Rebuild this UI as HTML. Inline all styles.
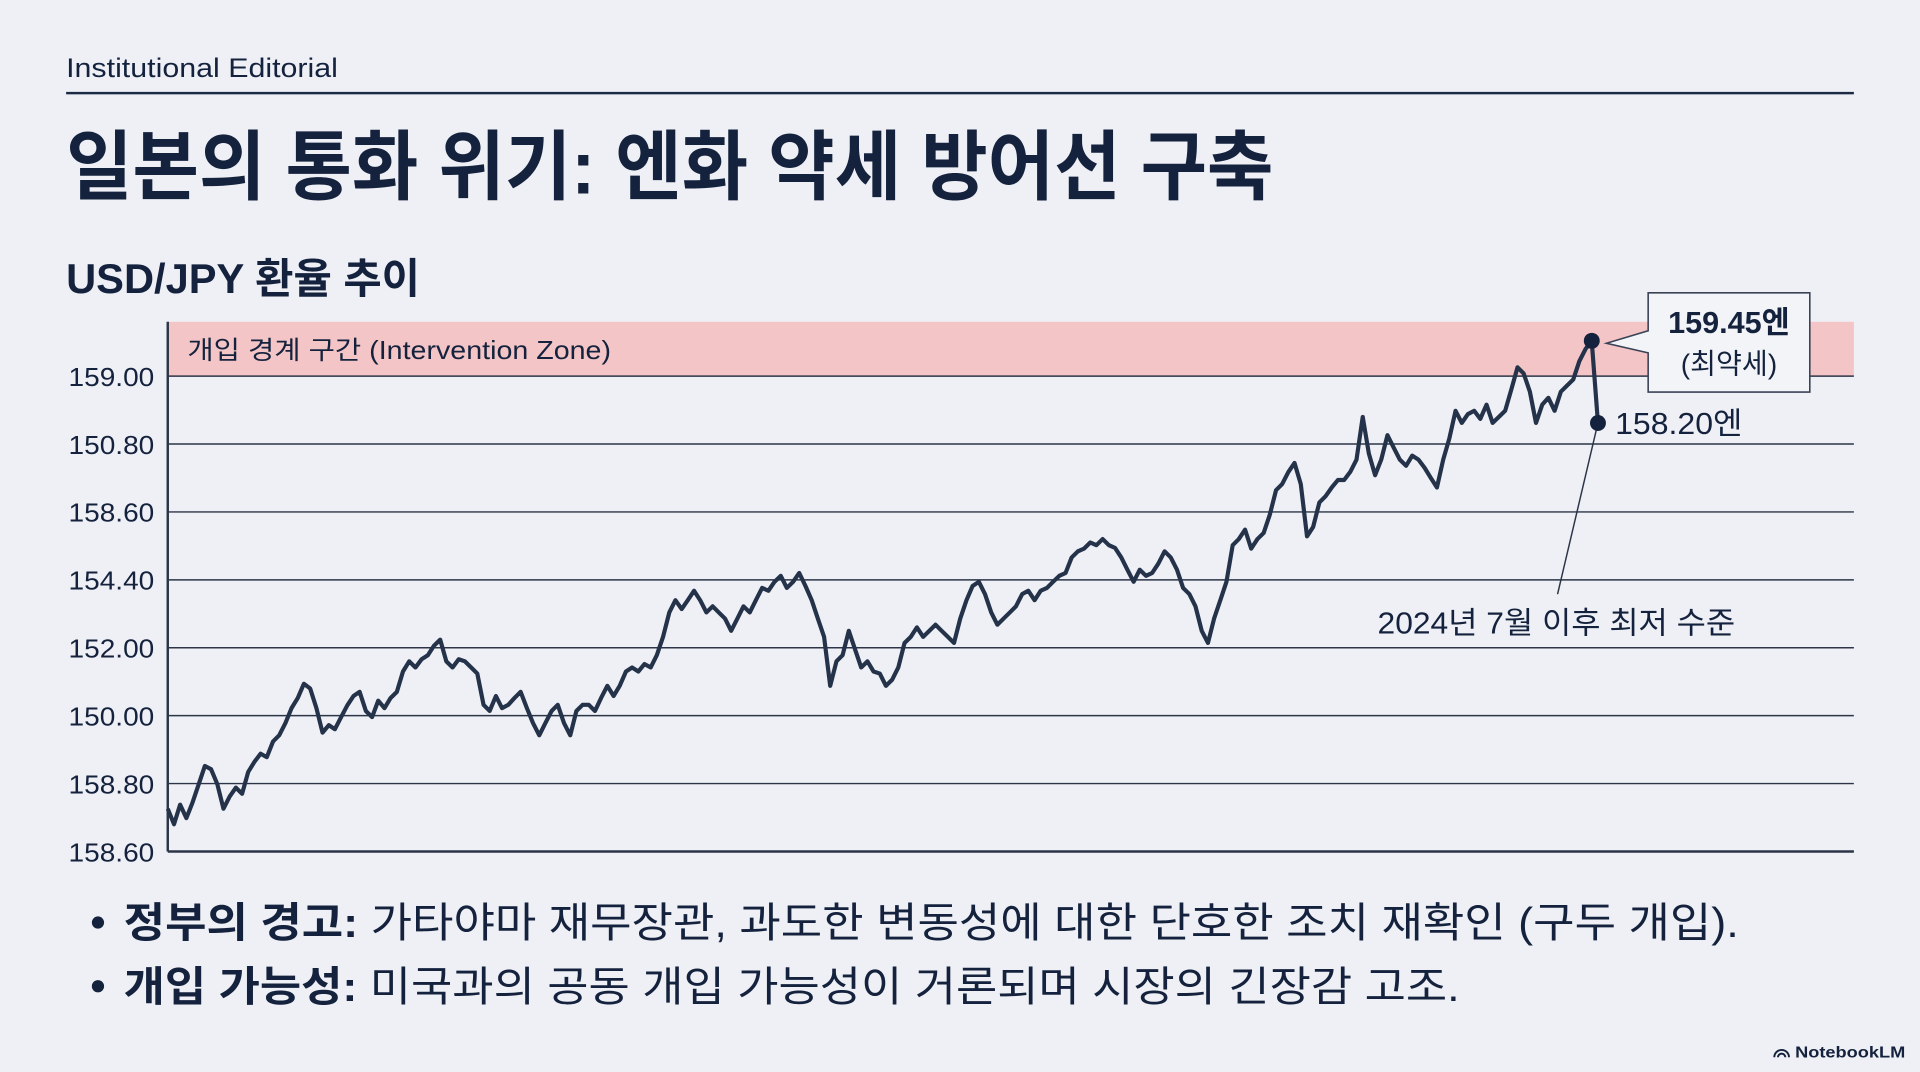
<!DOCTYPE html>
<html><head><meta charset="utf-8"><style>
html,body{margin:0;padding:0;background:#eef0f5;}
svg{display:block;}
text{font-family:"Liberation Sans","Noto Sans CJK KR",sans-serif;fill:#14223d;}
</style></head><body>
<svg id="chart" width="1920" height="1072" viewBox="0 0 1568 875" preserveAspectRatio="none" xmlns="http://www.w3.org/2000/svg">
<rect x="0" y="0" width="1568" height="875" fill="#eef0f5"/>
<text x="54" y="63" font-size="22" textLength="222" lengthAdjust="spacingAndGlyphs">Institutional Editorial</text>
<rect x="54" y="75" width="1460" height="2" fill="#1b2b45"/>
<text x="54" y="158" font-size="62" font-weight="bold" textLength="986" lengthAdjust="spacingAndGlyphs">일본의 통화 위기: 엔화 약세 방어선 구축</text>
<text x="54" y="239" font-size="34" font-weight="bold" textLength="289" lengthAdjust="spacingAndGlyphs">USD/JPY 환율 추이</text>
<g id="plot"></g>
<text x="101" y="765" font-size="34" textLength="1319" lengthAdjust="spacingAndGlyphs"><tspan font-weight="bold">정부의 경고:</tspan> 가타야마 재무장관, 과도한 변동성에 대한 단호한 조치 재확인 (구두 개입).</text>
<circle cx="80" cy="753" r="5" fill="#14223d"/>
<text x="101" y="817" font-size="34" textLength="1091" lengthAdjust="spacingAndGlyphs"><tspan font-weight="bold">개입 가능성:</tspan> 미국과의 공동 개입 가능성이 거론되며 시장의 긴장감 고조.</text>
<circle cx="80" cy="805" r="5" fill="#14223d"/>
<text x="1466" y="863" font-size="13" font-weight="bold" textLength="90" lengthAdjust="spacingAndGlyphs">NotebookLM</text>
<path d="M1449 863 a6 6 0 0 1 12 0 M1452 863 a3 3 0 0 1 6 0" stroke="#14223d" stroke-width="1.6" fill="none"/>
</svg>
<script>
const tickLabels = ["158.60","158.80","150.00","152.00","154.40","158.60","150.80","159.00"];
const tickLevels = [0,1,2,3,4,5,6,7];
const zoneTop = 7.8;
const series = [0.63,0.40,0.69,0.49,0.72,0.99,1.26,1.21,0.99,0.63,0.81,0.94,0.85,1.17,1.32,1.44,1.39,1.62,1.71,1.89,2.11,2.26,2.47,2.40,2.11,1.75,1.86,1.80,1.98,2.15,2.29,2.35,2.07,1.98,2.22,2.11,2.26,2.35,2.65,2.80,2.71,2.83,2.89,3.03,3.12,2.80,2.71,2.83,2.80,2.71,2.62,2.16,2.07,2.29,2.11,2.16,2.26,2.35,2.11,1.89,1.71,1.89,2.07,2.16,1.89,1.71,2.07,2.16,2.16,2.07,2.26,2.44,2.29,2.44,2.65,2.71,2.65,2.76,2.71,2.89,3.16,3.52,3.70,3.57,3.70,3.84,3.70,3.52,3.61,3.52,3.43,3.25,3.43,3.61,3.52,3.70,3.88,3.84,3.97,4.06,3.88,3.97,4.10,3.91,3.70,3.43,3.16,2.44,2.80,2.89,3.25,2.98,2.71,2.80,2.65,2.62,2.44,2.53,2.71,3.07,3.16,3.30,3.16,3.25,3.34,3.25,3.16,3.07,3.43,3.70,3.91,3.97,3.79,3.52,3.34,3.43,3.52,3.61,3.79,3.84,3.70,3.84,3.88,3.97,4.06,4.10,4.33,4.42,4.46,4.55,4.51,4.60,4.51,4.47,4.33,4.15,3.97,4.15,4.06,4.10,4.24,4.42,4.33,4.15,3.88,3.79,3.61,3.25,3.07,3.43,3.70,3.97,4.51,4.60,4.74,4.46,4.60,4.69,4.96,5.32,5.41,5.59,5.72,5.41,4.64,4.78,5.14,5.23,5.36,5.47,5.47,5.59,5.77,6.40,5.86,5.54,5.77,6.13,5.95,5.77,5.68,5.83,5.77,5.65,5.50,5.36,5.77,6.08,6.49,6.31,6.44,6.49,6.37,6.58,6.31,6.40,6.49,6.80,7.13,7.04,6.77,6.31,6.58,6.68,6.49,6.77,6.86,6.95,7.22,7.40,7.52,6.31];
const peakLabel = ["159.45엔","(최약세)"];
const lastLabel = "158.20엔";
const noteLabel = "2024년 7월 이후 최저 수준";

const NS = "http://www.w3.org/2000/svg";
const plot = document.getElementById('plot');
const X0 = 137, X1 = 1514, DX0 = 137, DX1 = 1305, Y0 = 695, Y7 = 307;
function yScale(v){ return Y0 + (Y7 - Y0) * v / 7; }
function xScale(i){ return DX0 + (DX1 - DX0) * i / (series.length - 1); }
function mk(tag, attrs){ const e = document.createElementNS(NS, tag); for (const k in attrs) e.setAttribute(k, attrs[k]); plot.appendChild(e); return e; }

const zone = mk('rect', {x: X0, y: yScale(zoneTop), width: X1 - X0, height: yScale(7) - yScale(zoneTop), fill: '#f4c5c6'});


const zt = mk('text', {x: 153, y: 293, 'font-size': 21, textLength: 346, lengthAdjust: 'spacingAndGlyphs', fill: '#2a2f3f'});
zt.textContent = "개입 경계 구간 (Intervention Zone)";



tickLevels.forEach((lv, i) => {
  const y = yScale(lv);
  const g = mk('line', {x1: X0, x2: X1, y1: y, y2: y, stroke: '#2c3548', 'stroke-width': i === 0 ? 2 : 1.2});
  
  
  const t = mk('text', {x: 126, y: y + 8, 'font-size': 21, 'text-anchor': 'end', textLength: 70, lengthAdjust: 'spacingAndGlyphs'});
  t.textContent = tickLabels[i];
  
  
});
const ax = mk('line', {x1: X0, x2: X0, y1: yScale(zoneTop), y2: Y0, stroke: '#2c3548', 'stroke-width': 2});



let d = '';
series.forEach((v, i) => { d += (i ? 'L' : 'M') + xScale(i).toFixed(1) + ' ' + yScale(v).toFixed(1); });
const line = mk('path', {d: d, fill: 'none', stroke: '#24324a', 'stroke-width': 3.4, 'stroke-linejoin': 'round'});



const pi = series.length - 2, li = series.length - 1;
const px = xScale(pi), py = yScale(series[pi]), lx = xScale(li), ly = yScale(series[li]);
const box = mk('path', {d: `M1346 239 H1478 V320 H1346 V288 L${px + 12} ${py + 2} L1346 270 Z`, fill: '#f3f4f8', stroke: '#3a4356', 'stroke-width': 1.3});


const pt1 = mk('text', {x: 1412, y: 272, 'font-size': 25, 'font-weight': 'bold', 'text-anchor': 'middle'});
pt1.textContent = peakLabel[0];


const pt2 = mk('text', {x: 1412, y: 305, 'font-size': 23, 'text-anchor': 'middle'});
pt2.textContent = peakLabel[1];


const note = mk('line', {x1: lx, y1: ly, x2: 1272, y2: 485, stroke: '#2c3548', 'stroke-width': 1.2});


const pd = mk('circle', {cx: px, cy: py, r: 6.5, fill: '#14223d'});


const ld = mk('circle', {cx: lx, cy: ly, r: 6.5, fill: '#14223d'});


const lt = mk('text', {x: lx + 14, y: ly + 9, 'font-size': 25, textLength: 104, lengthAdjust: 'spacingAndGlyphs'});
lt.textContent = lastLabel;


const nt = mk('text', {x: 1271, y: 517, 'font-size': 25, 'text-anchor': 'middle', textLength: 292, lengthAdjust: 'spacingAndGlyphs'});
nt.textContent = noteLabel;


</script>
</body></html>
